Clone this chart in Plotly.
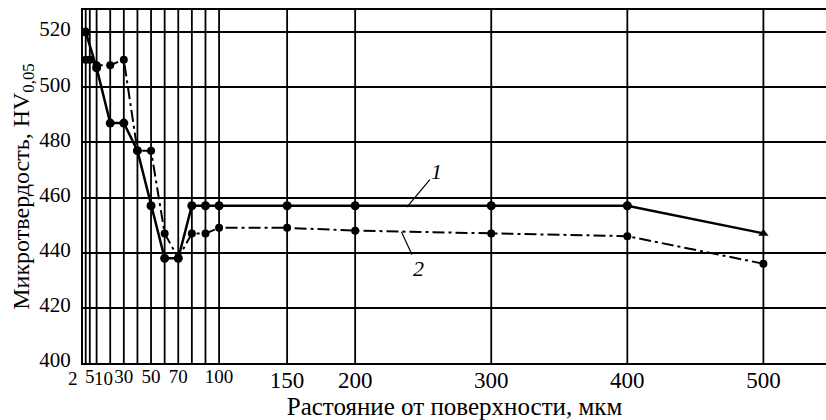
import plotly.graph_objects as go

# Data
x1 = [2, 10, 20, 30, 40, 50, 60, 70, 80, 90, 100, 150, 200, 300, 400, 500]
y1 = [520, 507, 487, 487, 477, 457, 438, 438, 457, 457, 457, 457, 457, 457, 457, 447]
sym1 = ["circle"] * 15 + ["triangle-up"]

x2 = [2, 5, 10, 20, 30, 40, 50, 60, 70, 80, 90, 100, 150, 200, 300, 400, 500]
y2 = [510, 510, 508, 508, 510, 477, 477, 447, 438, 447, 447, 449, 449, 448, 447, 446, 436]

x_grid = [2, 5, 10, 20, 30, 40, 50, 60, 70, 80, 90, 100, 150, 200, 300, 400, 500]
# large tick labels
x_big_vals = [150, 200, 300, 400, 500]
x_big_text = ["150", "200", "300", "400", "500"]
# small, crowded tick labels
x_small_vals = [5, 30, 50, 70, 100]
x_small_text = ["5", "30", "50", "70", "100"]
# crowded labels placed with a small horizontal offset
x_extra_vals = [2, 10]
x_extra_text = ["2", "10"]
x_extra_shift = [-13, 7]
y_ticks = [400, 420, 440, 460, 480, 500, 520]

FONT = "Liberation Serif, Times New Roman, serif"
XRANGE = [0, 546]

fig = go.Figure()

for xv in x_grid:
    fig.add_vline(x=xv, line=dict(color="black", width=1.8), layer="below")

fig.add_trace(go.Scatter(
    x=x1, y=y1, mode="lines+markers",
    line=dict(color="black", width=2.5),
    marker=dict(color="black", size=9, symbol=sym1, line=dict(width=0)),
    showlegend=False, cliponaxis=False,
))
fig.add_trace(go.Scatter(
    x=x2, y=y2, mode="lines+markers",
    line=dict(color="black", width=2, dash="12px,4px,3px,4px"),
    marker=dict(color="black", size=8, symbol="circle", line=dict(width=0)),
    showlegend=False, cliponaxis=False,
))
# invisible trace to activate the second x axis (small labels)
fig.add_trace(go.Scatter(x=[x2[0]], y=[y2[0]], xaxis="x2", mode="markers",
                         marker=dict(opacity=0), showlegend=False, hoverinfo="skip"))

fig.add_annotation(x=238, y=456.5, text="<i>1</i>", showarrow=True, arrowhead=0,
                   arrowwidth=1.2, arrowcolor="black", ax=30, ay=-36,
                   font=dict(family=FONT, size=22, color="black"))
fig.add_annotation(x=234, y=447.6, text="<i>2</i>", showarrow=True, arrowhead=0,
                   arrowwidth=1.2, arrowcolor="black", ax=17, ay=37,
                   font=dict(family=FONT, size=22, color="black"))

for xv, tx, sh in zip(x_extra_vals, x_extra_text, x_extra_shift):
    fig.add_annotation(x=xv, y=0, yref="paper", text=tx, showarrow=False,
                       xshift=sh, yanchor="top", yshift=-4, borderpad=0,
                       font=dict(family=FONT, size=19, color="black"))

fig.update_layout(
    width=826, height=420,
    margin=dict(l=83, r=0, t=10, b=57),
    paper_bgcolor="white", plot_bgcolor="white",
    font=dict(family=FONT, color="black"),
    xaxis=dict(
        range=XRANGE, tickvals=x_big_vals, ticktext=x_big_text,
        tickfont=dict(size=23), showgrid=False, zeroline=False,
        showline=True, linecolor="black", linewidth=2, mirror=True,
        ticks="", tickangle=0, ticklabelstandoff=-5,
        title=dict(text="Растояние от поверхности, мкм", font=dict(size=25), standoff=4),
    ),
    xaxis2=dict(
        range=XRANGE, overlaying="x", side="bottom", anchor="y",
        tickvals=x_small_vals, ticktext=x_small_text, tickfont=dict(size=19),
        showgrid=False, zeroline=False, showline=False, ticks="", tickangle=0,
    ),
    yaxis=dict(
        range=[400, 528], tickvals=y_ticks, tickfont=dict(size=21),
        showgrid=True, gridcolor="black", gridwidth=2, zeroline=False,
        showline=True, linecolor="black", linewidth=2, ticks="",
        ticklabelstandoff=6, ticklabelshift=-3,
        title=dict(text="Микротвердость, HV<sub>0,05</sub>", font=dict(size=24), standoff=3),
    ),
)

fig.write_html("out.html")
